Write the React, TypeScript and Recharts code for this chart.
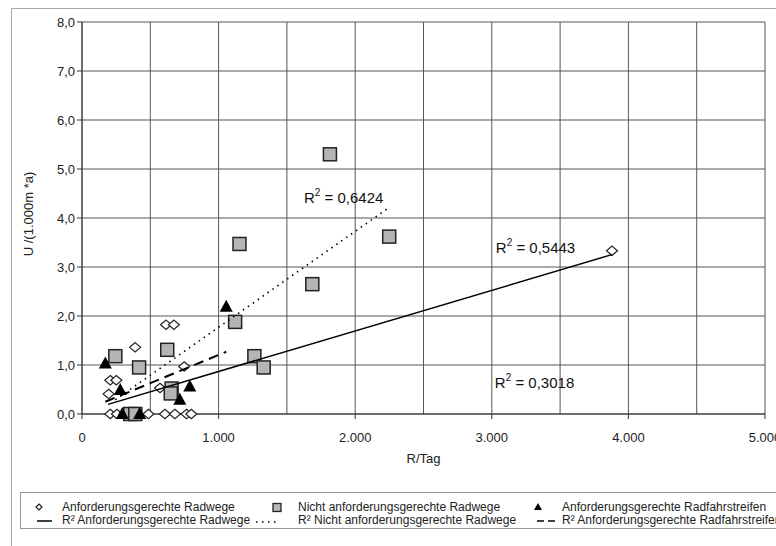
import React from 'react';
import { ScatterChart, Scatter, XAxis, YAxis, CartesianGrid, ReferenceDot, Legend } from 'recharts';

// Anforderungsgerechte Radwege (diamonds)
const radwegeX = [615, 673, 389, 207, 251, 195, 748, 571, 207, 256, 486, 607, 680, 765, 800, 3880];
const radwegeY = [1.82, 1.82, 1.36, 0.69, 0.69, 0.41, 0.97, 0.53, 0, 0, 0, 0, 0, 0, 0, 3.33];
// Nicht anforderungsgerechte Radwege (squares)
const nichtX = [1815, 2249, 1153, 1686, 1121, 244, 624, 418, 1262, 1330, 656, 650, 353, 390];
const nichtY = [5.3, 3.62, 3.47, 2.65, 1.88, 1.18, 1.31, 0.95, 1.18, 0.95, 0.52, 0.42, 0, 0];
// Anforderungsgerechte Radfahrstreifen (triangles)
const streifenX = [1056, 171, 280, 789, 716, 295, 422];
const streifenY = [2.19, 1.03, 0.49, 0.56, 0.29, 0, 0];

// Trend lines (endpoints)
const trendRadwegeX = [190, 3880];
const trendRadwegeY = [0.197, 3.253];
const trendNichtX = [244, 2249];
const trendNichtY = [0.29, 4.216];
const trendStreifenX = [171, 1056];
const trendStreifenY = [0.25, 1.27];

// R² labels
const r2Texts = ['0,6424', '0,5443', '0,3018'];
const r2X = [1916, 3320, 3313];
const r2Y = [4.41, 3.39, 0.63];

const xTicks = [0, 500, 1000, 1500, 2000, 2500, 3000, 3500, 4000, 4500, 5000];
const yTicks = [0, 1, 2, 3, 4, 5, 6, 7, 8];

const legendLabels = [
  'Anforderungsgerechte Radwege',
  'Nicht anforderungsgerechte Radwege',
  'Anforderungsgerechte Radfahrstreifen',
  'R² Anforderungsgerechte Radwege',
  'R² Nicht anforderungsgerechte Radwege',
  'R² Anforderungsgerechte Radfahrstreifen',
];

const zip = (xs: number[], ys: number[]) => xs.map((x, i) => ({ x, y: ys[i] }));

const radwege = zip(radwegeX, radwegeY);
const nicht = zip(nichtX, nichtY);
const streifen = zip(streifenX, streifenY);
const trendRadwege = zip(trendRadwegeX, trendRadwegeY);
const trendNicht = zip(trendNichtX, trendNichtY);
const trendStreifen = zip(trendStreifenX, trendStreifenY);

const FONT = '"Liberation Sans", Arial, sans-serif';
const X_TICK_MARGIN = 14;
const X_TICK_SIZE = 5;

const Diamond = (p: any) => {
  const { cx, cy } = p;
  const rx = 5.5, ry = 4.7;
  return <path d={`M${cx},${cy - ry}L${cx + rx},${cy}L${cx},${cy + ry}L${cx - rx},${cy}Z`} fill="#fff" stroke="#222" strokeWidth={1.2} />;
};
const Square = (p: any) => {
  const { cx, cy } = p;
  const h = 6.5;
  return <rect x={cx - h} y={cy - h} width={2 * h} height={2 * h} fill="#b5b5b5" stroke="#222" strokeWidth={1.5} />;
};
const Triangle = (p: any) => {
  const { cx, cy } = p;
  return <path d={`M${cx},${cy - 7}L${cx + 6.5},${cy + 5}L${cx - 6.5},${cy + 5}Z`} fill="#000" />;
};
const Empty = () => <g />;

const R2Label = (text: string) => (props: any) => {
  const { viewBox } = props;
  const x = viewBox.x + (viewBox.width || 0) / 2;
  const y = viewBox.y + (viewBox.height || 0) / 2;
  return (
    <text x={x} y={y + 5} textAnchor="middle" fontFamily={FONT} fontSize={15} fill="#111">
      <tspan>R</tspan>
      <tspan fontSize={10} dy={-7}>2</tspan>
      <tspan dy={7}>{' = ' + text}</tspan>
    </text>
  );
};

const XTick = (props: any) => {
  const { x, y, payload } = props;
  const v = payload.value as number;
  const major = v % 1000 === 0;
  const axisY = y - X_TICK_SIZE - X_TICK_MARGIN;
  return (
    <g>
      {major && <line x1={x} x2={x} y1={axisY} y2={axisY + X_TICK_SIZE} stroke="#333" />}
      {major && (
        <text x={x} y={y} dy="0.71em" textAnchor="middle" fontFamily={FONT} fontSize={13} fill="#222">
          {v === 0 ? '0' : `${v / 1000}.000`}
        </text>
      )}
    </g>
  );
};

const LegendContent = () => {
  const iconX = [19, 257, 518];
  const textX = [42, 278, 542];
  const rowY = [15, 28];
  return (
    <div style={{ width: 770, height: 37, border: '1px solid #999', boxSizing: 'border-box', background: '#fff' }}>
      <svg width={770} height={37} style={{ display: 'block', marginTop: -1, marginLeft: -1 }}>
        <path d={`M${iconX[0]},${rowY[0] - 3}L${iconX[0] + 3},${rowY[0]}L${iconX[0]},${rowY[0] + 3}L${iconX[0] - 3},${rowY[0]}Z`} fill="#fff" stroke="#222" strokeWidth={1.2} />
        <rect x={iconX[1] - 4} y={rowY[0] - 3.5} width={8} height={8} fill="#b5b5b5" stroke="#222" strokeWidth={1.3} />
        <path d={`M${iconX[2]},${rowY[0] - 4}L${iconX[2] + 4},${rowY[0] + 3}L${iconX[2] - 4},${rowY[0] + 3}Z`} fill="#000" />
        <line x1={iconX[0] - 2} x2={iconX[0] + 13} y1={rowY[1] + 1} y2={rowY[1] + 1} stroke="#000" strokeWidth={1.5} />
        <line x1={iconX[1] - 21} x2={iconX[1] + 2} y1={rowY[1] + 2} y2={rowY[1] + 2} stroke="#000" strokeWidth={1.5} strokeDasharray="1.5 4.5" />
        <line x1={iconX[2] - 1} x2={iconX[2] + 17} y1={rowY[1] + 1} y2={rowY[1] + 1} stroke="#000" strokeWidth={1.5} strokeDasharray="7 4" />
        {legendLabels.map((l, i) => (
          <text key={l} x={textX[i % 3]} y={rowY[Math.floor(i / 3)] + 4} fontFamily={FONT} fontSize={12} fill="#222">{l}</text>
        ))}
      </svg>
    </div>
  );
};

const YLabel = (props: any) => {
  const { viewBox } = props;
  const x = viewBox.x + 6;
  const y = viewBox.y + viewBox.height / 2 - 4;
  return (
    <text x={x} y={y} transform={`rotate(-90, ${x}, ${y})`} textAnchor="middle" dominantBaseline="central" fontFamily={FONT} fontSize={13} fill="#222">
      U /(1.000m *a)
    </text>
  );
};

const fmtY = (v: number) => v.toFixed(1).replace('.', ',');

export default function App() {
  return (
    <div style={{ position: 'absolute', left: 0, top: 0, width: 776, height: 546, background: '#fff', overflow: 'hidden' }}>
      <div style={{ position: 'absolute', left: 11, top: 8, width: 800, height: 600, borderLeft: '1px solid #aaa', borderTop: '1px solid #aaa' }} />
      <ScatterChart width={776} height={546} margin={{ top: 22, right: 11, bottom: 65, left: 22 }} style={{ fontFamily: FONT }}>
        <CartesianGrid stroke="#555" strokeWidth={1} />
        <XAxis
          type="number"
          dataKey="x"
          domain={[0, 5000]}
          ticks={xTicks}
          interval={0}
          axisLine={{ stroke: '#333' }}
          tickLine={false}
          tickSize={X_TICK_SIZE}
          tickMargin={X_TICK_MARGIN}
          tick={XTick}
          height={30}
          label={{ value: 'R/Tag', position: 'insideBottom', offset: -19, fill: '#222', fontSize: 13, fontFamily: FONT }}
        />
        <YAxis
          type="number"
          dataKey="y"
          domain={[0, 8]}
          ticks={yTicks}
          tickFormatter={fmtY}
          interval={0}
          axisLine={{ stroke: '#333' }}
          tickLine={{ stroke: '#333' }}
          tickSize={5}
          tick={{ fill: '#222', fontSize: 13, fontFamily: FONT }}
          width={60}
          label={{ content: YLabel }}
        />
        <Scatter data={radwege} shape={Diamond} isAnimationActive={false} />
        <Scatter data={nicht} shape={Square} isAnimationActive={false} />
        <Scatter data={streifen} shape={Triangle} isAnimationActive={false} />
        <Scatter data={trendRadwege} shape={Empty} line={{ stroke: '#000', strokeWidth: 1.5 }} isAnimationActive={false} />
        <Scatter data={trendNicht} shape={Empty} line={{ stroke: '#000', strokeWidth: 1.6, strokeDasharray: '1.5 4.5' }} isAnimationActive={false} />
        <Scatter data={trendStreifen} shape={Empty} line={{ stroke: '#000', strokeWidth: 2, strokeDasharray: '10 6' }} isAnimationActive={false} />
        {r2Texts.map((t, i) => (
          <ReferenceDot key={t} x={r2X[i]} y={r2Y[i]} r={0} stroke="none" fill="none" label={{ content: R2Label(t) }} />
        ))}
        <Legend content={LegendContent} wrapperStyle={{ position: 'absolute', left: 20, top: 492, width: 770, height: 37 }} />
      </ScatterChart>
    </div>
  );
}
